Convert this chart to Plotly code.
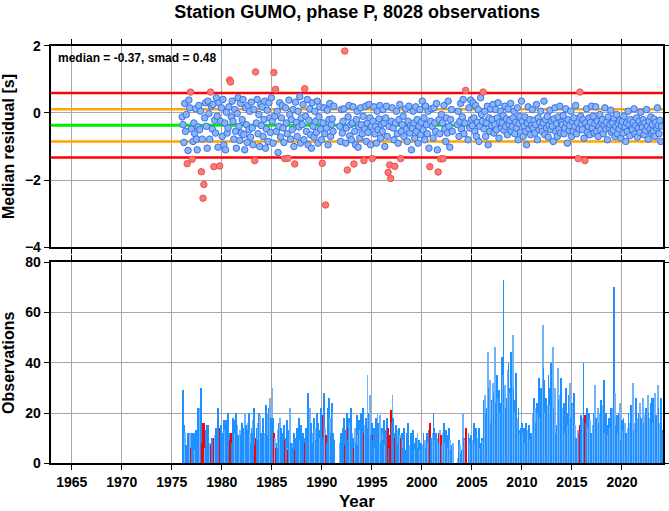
import plotly.graph_objects as go

TITLE = "Station GUMO, phase P, 8028 observations"
MEDIAN = -0.37
SMAD = 0.48
YEARS = list(range(1976, 2024))
N = None

# monthly median residuals [s] (None = no data)
RESID = {
1976: [-0.12, -0.35, -0.88, 0.28, -0.55, -0.05, -1.51, -1.12, 0.38, 0.15, 0.62, -0.48],
1977: [-1.38, -0.85, -0.30, -0.62, 0.12, -0.78, -1.10, -0.42, 0.22, -0.50, 0.05, -1.75],
1978: [-0.78, -2.54, -2.13, -0.15, 0.30, -0.40, -1.05, 0.35, -0.02, -0.78, 0.62, 0.20],
1979: [-0.48, 0.25, -1.60, -0.22, -0.60, 0.45, -0.10, -1.02, 0.30, -1.58, -0.25, 0.15],
1980: [-0.70, 0.40, -0.95, -0.30, -1.10, 0.02, -0.60, -0.45, 0.18, 0.98, 0.92, -0.12],
1981: [0.35, -0.25, -0.78, 0.10, -0.55, -1.05, -0.02, 0.45, -0.40, -0.82, 0.28, -0.60],
1982: [-0.20, 0.40, -0.65, -1.10, 0.15, -0.35, -0.88, 0.22, -0.50, 0.05, -0.72, 0.32],
1983: [-0.45, -0.95, 0.10, -1.42, 1.22, -0.30, 0.40, -0.62, -0.05, -1.00, 0.25, -0.38],
1984: [0.18, -0.70, -0.20, 0.35, -1.05, -0.48, 0.08, -0.85, 0.30, -0.15, -0.58, 0.45],
1985: [-0.25, -0.90, 1.20, -0.10, 0.70, -0.55, 0.05, -1.18, -0.40, 0.30, -0.72, -0.15],
1986: [0.22, -0.45, -0.88, -1.36, 0.15, -0.30, -0.62, -1.35, 0.38, -0.05, -0.78, -0.20],
1987: [-0.50, 0.10, -1.00, -1.52, 0.32, -0.28, -0.70, 0.05, -0.42, 0.48, -0.90, -0.15],
1988: [-0.35, 0.25, -0.80, 0.72, -0.10, -0.55, 0.40, -0.95, -0.22, 0.12, -0.65, -1.05],
1989: [0.30, -0.40, -0.72, 0.05, -0.25, -0.58, 0.35, -0.90, -0.12, 0.18, -0.48, -0.80],
1990: [-1.50, -0.30, 0.15, -0.62, -2.74, -0.45, 0.08, -0.95, -0.20, 0.28, -0.70, -0.35],
1991: [-0.18, -0.55, 0.20, N, N, N, N, N, N, -0.40, -0.85, 0.10],
1992: [-0.60, -0.25, 0.12, 1.84, -0.90, -0.45, -1.70, -0.12, 0.22, -0.68, -0.35, -0.80],
1993: [-0.30, 0.18, -1.52, -0.55, -0.95, -0.20, 0.05, -1.02, -0.42, -0.75, 0.15, -0.35],
1994: [-0.62, -0.10, -1.42, -0.48, 0.20, -0.85, -0.30, -0.58, 0.25, -0.15, -0.95, -0.40],
1995: [-1.36, -0.25, 0.18, -0.62, -0.40, -0.90, 0.05, -0.50, -0.18, 0.22, -0.75, -0.35],
1996: [-0.55, 0.10, -0.30, -1.00, -0.15, 0.20, -0.70, -1.77, -0.40, -1.55, -1.95, -0.25],
1997: [0.15, -0.45, -0.80, -1.59, -0.30, 0.05, -0.62, -0.90, -0.20, 0.25, -1.36, -0.55],
1998: [-0.35, -0.10, -0.70, N, 0.12, -0.48, -0.85, -0.25, 0.20, -0.60, -0.38, -1.10],
1999: [-0.45, 0.05, -0.30, -0.75, 0.18, -0.55, -0.20, -0.90, -0.40, 0.10, -0.65, -0.28],
2000: [0.35, -0.50, -0.15, -0.80, 0.20, -0.35, -0.62, 0.05, -1.05, -1.60, -0.25, 0.12],
2001: [-0.40, -0.75, 0.15, -0.30, -0.55, 0.28, -1.10, -1.76, -0.20, -0.62, -1.37, -0.05],
2002: [-0.30, -1.36, 0.22, -0.48, -0.85, -0.15, -0.60, 0.35, -0.40, -1.02, -0.20, 0.10],
2003: [-0.55, N, N, N, N, N, -0.35, 0.05, -0.70, -0.25, 0.28, -0.48],
2004: [-0.12, 0.40, -0.62, -0.30, 0.67, N, N, -0.80, 0.15, -0.45, 0.38, -0.20],
2005: [-0.38, 0.30, -0.15, -0.55, 0.22, -0.70, -0.28, 0.10, -0.85, -0.40, 0.45, -0.05],
2006: [-0.25, 0.62, -0.48, 0.05, -0.70, -0.30, 0.20, -0.95, -0.15, -0.55, 0.12, -0.38],
2007: [-0.20, 0.25, -0.60, -0.35, 0.10, -0.50, -0.15, 0.30, -0.75, -0.28, 0.05, -0.45],
2008: [-0.30, -0.08, -0.52, 0.20, -0.40, -0.18, -0.65, 0.12, -0.35, -0.22, 0.28, -0.55],
2009: [-0.40, -0.15, 0.05, -0.62, -0.28, -0.45, 0.15, -0.80, -0.32, -0.10, -0.58, 0.35],
2010: [-0.25, -0.70, -0.40, -0.12, -0.55, -0.95, -0.30, 0.18, -0.48, -0.20, -0.65, -0.38],
2011: [0.10, -0.45, -0.22, -0.60, -0.35, 0.25, -0.80, -0.15, -0.50, -0.28, 0.05, -0.42],
2012: [-0.55, -0.30, 0.35, -0.65, -0.20, -0.45, -0.10, -0.72, -0.38, 0.08, -0.50, -0.25],
2013: [-0.40, -0.85, -0.18, 0.15, -0.55, -0.32, -0.70, -0.12, -0.48, 0.20, -0.60, -0.28],
2014: [-0.35, -0.08, -0.62, -0.45, 0.12, -0.30, -0.90, -0.20, -0.52, -0.38, 0.05, -0.70],
2015: [-0.25, -0.55, -0.15, -0.40, 0.22, -0.62, -0.30, -1.36, -0.48, 0.62, -0.10, -0.35],
2016: [-0.50, -0.20, -0.75, -1.42, -0.30, 0.12, -0.58, -0.40, -0.15, -0.65, -0.28, 0.20],
2017: [-0.45, -0.10, -0.60, -0.32, 0.18, -0.55, -0.25, -0.70, -0.40, -0.05, -0.50, -0.30],
2018: [-0.20, -0.62, -0.38, 0.15, -0.48, -0.28, -0.80, -0.12, -0.45, -0.35, 0.08, -0.58],
2019: [-0.30, -0.52, -0.15, -0.70, -0.40, -0.05, -0.62, -0.32, -0.48, -0.22, -0.75, -0.38],
2020: [-0.25, -0.60, -0.10, -0.42, -0.85, -0.30, -0.55, 0.05, -0.35, -0.68, -0.20, -0.45],
2021: [-0.50, -0.28, 0.12, -0.62, -0.38, -0.15, -0.72, -0.45, -0.25, -0.58, 0.02, -0.35],
2022: [-0.42, -0.20, -0.65, -0.30, -0.52, 0.10, -0.40, -0.78, -0.25, -0.48, -0.12, -0.60],
2023: [-0.35, -0.55, -0.18, -0.70, -0.28, -0.45, 0.15, -0.38, -0.62, -0.22, -0.85, -0.40],
}

# monthly number of observations
COUNTS = {
1976: [10, 29, 15, 12, 7, 5, 6, 12, 8, 12, 6, 12],
1977: [6, 9, 12, 5, 13, 8, 11, 22, 17, 22, 30, 8],
1978: [14, 16, 16, 6, 13, 15, 12, 15, 7, 8, 7, 10],
1979: [6, 8, 10, 11, 14, 12, 9, 22, 12, 14, 15, 8],
1980: [8, 12, 17, 13, 17, 9, 14, 20, 12, 9, 12, 8],
1981: [13, 18, 17, 12, 20, 9, 15, 11, 6, 13, 11, 16],
1982: [10, 14, 12, 20, 15, 10, 16, 13, 20, 12, 8, 14],
1983: [17, 12, 22, 7, 10, 14, 16, 9, 20, 19, 12, 10],
1984: [14, 18, 10, 12, 23, 16, 20, 11, 22, 26, 18, 13],
1985: [30, 18, 12, 10, 6, 8, 13, 6, 16, 18, 14, 9],
1986: [6, 12, 15, 9, 10, 17, 6, 5, 13, 22, 8, 6],
1987: [8, 6, 12, 5, 10, 14, 8, 12, 18, 9, 15, 11],
1988: [7, 12, 10, 8, 14, 9, 20, 28, 12, 22, 16, 10],
1989: [12, 8, 18, 14, 9, 20, 11, 16, 13, 10, 22, 17],
1990: [19, 10, 28, 14, 11, 8, 15, 22, 26, 18, 12, 24],
1991: [20, 12, 9, 0, 0, 0, 0, 0, 0, 8, 12, 6],
1992: [10, 14, 18, 7, 13, 20, 14, 9, 18, 16, 22, 9],
1993: [12, 10, 6, 14, 8, 19, 11, 7, 17, 13, 20, 9],
1994: [13, 22, 12, 15, 18, 10, 35, 14, 20, 27, 11, 16],
1995: [11, 9, 14, 6, 18, 12, 20, 16, 10, 19, 8, 14],
1996: [12, 9, 17, 7, 13, 18, 10, 14, 6, 11, 21, 16],
1997: [27, 18, 12, 10, 15, 9, 13, 8, 14, 11, 10, 12],
1998: [9, 6, 14, 0, 5, 12, 8, 16, 5, 7, 12, 9],
1999: [6, 13, 8, 5, 10, 7, 12, 6, 9, 5, 8, 6],
2000: [7, 12, 5, 9, 6, 12, 8, 13, 7, 16, 10, 8],
2001: [12, 20, 14, 9, 12, 6, 10, 12, 8, 13, 11, 7],
2002: [12, 10, 16, 8, 13, 11, 6, 8, 14, 9, 5, 7],
2003: [8, 0, 0, 0, 0, 0, 2, 5, 9, 7, 4, 5],
2004: [20, 8, 10, 9, 14, 0, 0, 12, 10, 8, 11, 6],
2005: [9, 12, 16, 8, 14, 6, 10, 12, 14, 6, 8, 10],
2006: [9, 10, 25, 27, 20, 22, 44, 30, 18, 33, 16, 25],
2007: [32, 20, 28, 46, 24, 35, 26, 15, 29, 20, 24, 42],
2008: [35, 73, 28, 31, 22, 26, 37, 40, 30, 28, 44, 36],
2009: [51, 30, 25, 20, 36, 15, 18, 22, 13, 12, 14, 16],
2010: [12, 10, 14, 8, 16, 11, 13, 7, 15, 9, 12, 10],
2011: [20, 15, 26, 22, 16, 24, 20, 21, 34, 18, 30, 22],
2012: [55, 38, 33, 20, 26, 18, 23, 35, 30, 23, 40, 28],
2013: [46, 22, 18, 30, 12, 15, 38, 25, 20, 27, 34, 16],
2014: [22, 18, 24, 12, 30, 20, 15, 27, 10, 32, 18, 24],
2015: [23, 12, 28, 15, 10, 8, 13, 6, 12, 15, 19, 10],
2016: [18, 40, 12, 19, 16, 22, 14, 10, 20, 17, 12, 8],
2017: [15, 20, 14, 31, 18, 12, 22, 9, 16, 20, 25, 13],
2018: [23, 17, 33, 12, 20, 15, 11, 9, 18, 14, 22, 10],
2019: [22, 42, 70, 28, 15, 19, 12, 20, 10, 24, 9, 17],
2020: [13, 18, 10, 16, 12, 8, 14, 20, 11, 16, 23, 18],
2021: [32, 13, 11, 16, 26, 10, 18, 20, 13, 24, 18, 10],
2022: [26, 16, 13, 19, 22, 12, 27, 20, 10, 18, 24, 26],
2023: [16, 26, 14, 28, 19, 13, 31, 22, 12, 16, 26, 13],
}

X_TICKS = [1965, 1970, 1975, 1980, 1985, 1990, 1995, 2000, 2005, 2010, 2015, 2020]
X_RANGE = [1962.9, 2024.1]

# ---- build month series ----
xs, res, cnt = [], [], []
for y in YEARS:
    for m in range(12):
        xs.append(y + (m + 0.5) / 12)
        res.append(RESID[y][m])
        cnt.append(COUNTS[y][m])

lim = 2 * SMAD
def is_out(v):
    return v is not None and abs(v - MEDIAN) > lim

bx = [x for x, v in zip(xs, res) if v is not None and not is_out(v)]
by = [v for v in res if v is not None and not is_out(v)]
rx = [x for x, v in zip(xs, res) if is_out(v)]
ry = [v for v in res if is_out(v)]
bar_cols = ["#ff0000" if is_out(v) else ("#1e90ff" if i % 3 else "#6fb3ff") for i, v in enumerate(res)]

FONT = "Liberation Sans, Arial, Helvetica, sans-serif"

fig = go.Figure()
fig.add_trace(go.Bar(x=xs, y=cnt, width=1/12, marker=dict(color=bar_cols, line=dict(width=0)),
                     xaxis="x2", yaxis="y2", showlegend=False, hoverinfo="x+y"))

# reference lines: median, +-1 smad, +-2 smad
for k, col, w in [(2, "#ff0000", 2.5), (1, "#ffa500", 2.5), (-1, "#ffa500", 2.5), (-2, "#ff0000", 2.5), (0, "#00ee00", 3)]:
    yv = MEDIAN + k * SMAD
    fig.add_trace(go.Scatter(x=X_RANGE, y=[yv, yv], mode="lines", line=dict(color=col, width=w),
                             showlegend=False, hoverinfo="skip", cliponaxis=True))

fig.add_trace(go.Scatter(x=bx, y=by, mode="markers", showlegend=False,
                         marker=dict(size=6.5, color="#86b6f6", line=dict(color="#3d6ee6", width=1))))
fig.add_trace(go.Scatter(x=rx, y=ry, mode="markers", showlegend=False,
                         marker=dict(size=6.5, color="#f77a74", line=dict(color="#ef5050", width=1))))

axis_common = dict(showline=True, linecolor="black", linewidth=2, mirror="ticks",
                   ticks="outside", ticklen=5, tickcolor="black", tickwidth=1,
                   showgrid=True, gridcolor="#a8a8a8", gridwidth=1, zeroline=False,
                   automargin=False,
                   tickfont=dict(family=FONT, size=14, color="black", weight="bold"))

fig.update_layout(
    width=669, height=511, margin=dict(l=0, r=0, t=0, b=0, autoexpand=False),
    paper_bgcolor="white", plot_bgcolor="white", bargap=0,
    title=dict(text=TITLE, x=0.534, xanchor="center", y=0.977, yanchor="middle",
               automargin=False,
               font=dict(family=FONT, size=18, color="black", weight="bold")),
    xaxis=dict(axis_common, domain=[0.0758, 0.991], range=X_RANGE, tickvals=X_TICKS,
               showticklabels=False, anchor="y"),
    yaxis=dict(axis_common, domain=[0.516, 0.9106], range=[-4, 2], tickvals=[-4, -2, 0, 2],
               anchor="x",
               title=dict(text="Median residual [s]", standoff=10,
                          font=dict(family=FONT, size=16, color="black", weight="bold"))),
    xaxis2=dict(axis_common, domain=[0.0758, 0.991], range=X_RANGE, tickvals=X_TICKS,
                anchor="y2",
                title=dict(text="Year", standoff=10,
                           font=dict(family=FONT, size=17, color="black", weight="bold"))),
    yaxis2=dict(axis_common, domain=[0.0933, 0.4867], range=[0, 80], tickvals=[0, 20, 40, 60, 80],
                anchor="x2",
                title=dict(text="Observations", standoff=10,
                           font=dict(family=FONT, size=16, color="black", weight="bold"))),
    annotations=[dict(text=f"median = {MEDIAN:.2f}, smad = {SMAD:.2f}", xref="x domain", yref="y domain",
                      x=0.008, y=0.985, xanchor="left", yanchor="top", showarrow=False,
                      font=dict(family=FONT, size=12, color="black", weight="bold"))],
)

fig.write_html("out.html", config={"displayModeBar": False},
               post_script="document.body.style.margin='0';document.body.style.padding='0';")
